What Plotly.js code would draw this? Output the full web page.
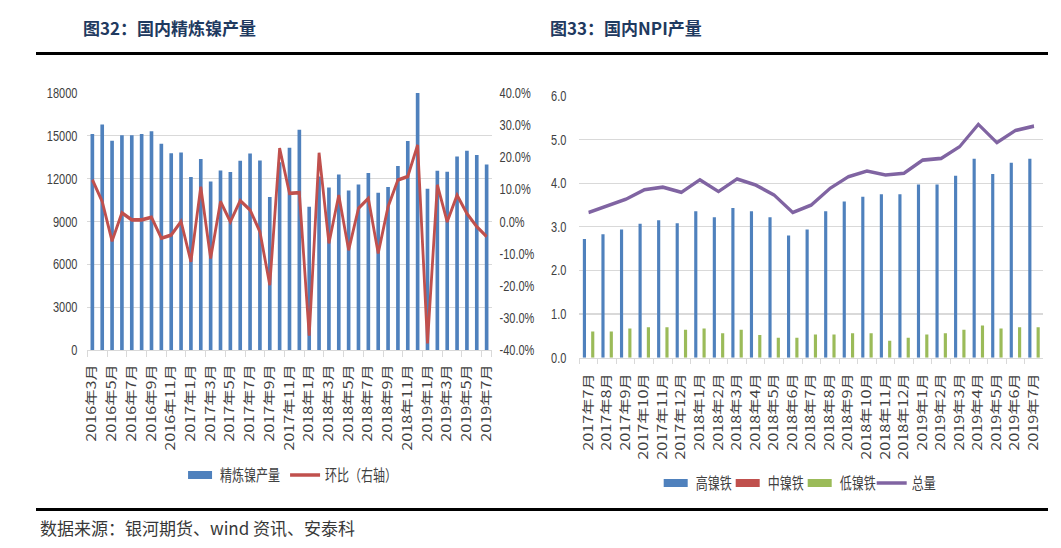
<!DOCTYPE html>
<html>
<head>
<meta charset="utf-8">
<script src="https://cdn.plot.ly/plotly-3.0.1.min.js"></script>
<style>
  html, body { margin:0; padding:0; background:#fff; width:1061px; height:548px; overflow:hidden; }
  #chart { position:absolute; left:0; top:0; width:1061px; height:422px; transform:scaleY(1.2986); transform-origin:0 0; }
  .txt { position:absolute; white-space:nowrap; font-family:"Noto Sans CJK SC", sans-serif; z-index:5; }
  .rule { position:absolute; background:#000; z-index:5; }
</style>
</head>
<body>
<div id="chart"></div>
<div class="txt" style="left:83px; top:18px; font-size:17px; line-height:20px; font-weight:bold; color:#1F3A60;">图32：国内精炼镍产量</div>
<div class="txt" style="left:550px; top:18px; font-size:17px; line-height:20px; font-weight:bold; color:#1F3A60;">图33：国内NPI产量</div>
<div class="rule" style="left:36px; top:52px; width:1012px; height:3px;"></div>
<div class="rule" style="left:36px; top:508px; width:1012px; height:3px;"></div>
<div class="txt" style="left:40px; top:517px; font-size:17px; line-height:22px; color:#383838;">数据来源：银河期货、wind 资讯、安泰科</div>
<script>
// ---------- 图32：国内精炼镍产量 ----------
const refinedMonths = [
  "2016年3月","2016年4月","2016年5月","2016年6月","2016年7月","2016年8月","2016年9月","2016年10月","2016年11月","2016年12月",
  "2017年1月","2017年2月","2017年3月","2017年4月","2017年5月","2017年6月","2017年7月","2017年8月","2017年9月","2017年10月","2017年11月","2017年12月",
  "2018年1月","2018年2月","2018年3月","2018年4月","2018年5月","2018年6月","2018年7月","2018年8月","2018年9月","2018年10月","2018年11月","2018年12月",
  "2019年1月","2019年2月","2019年3月","2019年4月","2019年5月","2019年6月","2019年7月"
];
const refinedOutput = [
  15130,15800,14650,15040,15040,15130,15320,14450,13780,13840,
  12120,13380,11810,12580,12470,13260,13770,13280,10720,13150,14170,15430,
  10040,12150,11390,12300,11180,11600,12400,11020,11420,12890,14640,18000,
  11300,12560,12490,13560,13960,13660,13000
];
const refinedMoM = [
  0.130,0.062,-0.061,0.027,0.005,0.005,0.013,-0.052,-0.042,0.000,
  -0.125,0.108,-0.115,0.062,-0.001,0.065,0.036,-0.032,-0.198,0.228,0.088,0.090,
  -0.355,0.214,-0.068,0.082,-0.089,0.041,0.072,-0.099,0.046,0.129,0.140,0.238,
  -0.379,0.114,-0.001,0.082,0.025,-0.016,-0.047
];
const refinedTickLabels = [
  "2016年3月","2016年5月","2016年7月","2016年9月","2016年11月",
  "2017年1月","2017年3月","2017年5月","2017年7月","2017年9月","2017年11月",
  "2018年1月","2018年3月","2018年5月","2018年7月","2018年9月","2018年11月",
  "2019年1月","2019年3月","2019年5月","2019年7月"
];
const momTickVals = [-0.4,-0.3,-0.2,-0.1,0,0.1,0.2,0.3,0.4];
const momTickText = ["-40.0%","-30.0%","-20.0%","-10.0%","0.0%","10.0%","20.0%","30.0%","40.0%"];

// ---------- 图33：国内NPI产量 ----------
const npiMonths = [
  "2017年7月","2017年8月","2017年9月","2017年10月","2017年11月","2017年12月",
  "2018年1月","2018年2月","2018年3月","2018年4月","2018年5月","2018年6月",
  "2018年7月","2018年8月","2018年9月","2018年10月","2018年11月","2018年12月",
  "2019年1月","2019年2月","2019年3月","2019年4月","2019年5月","2019年6月","2019年7月"
];
const highNiFe = [2.72,2.83,2.94,3.07,3.15,3.08,3.36,3.22,3.43,3.36,3.22,2.80,2.94,3.36,3.58,3.69,3.75,3.75,3.97,3.97,4.17,4.56,4.21,4.47,4.56];
const midNiFe  = [null,null,null,null,null,null,null,null,null,null,null,null,null,null,null,null,null,null,null,null,null,null,null,null,null];
const lowNiFe  = [0.60,0.60,0.67,0.70,0.70,0.64,0.67,0.56,0.64,0.52,0.46,0.46,0.53,0.53,0.56,0.56,0.39,0.46,0.53,0.56,0.64,0.74,0.67,0.70,0.70];
const totalNPI = [3.33,3.48,3.63,3.85,3.91,3.79,4.08,3.81,4.10,3.96,3.73,3.33,3.50,3.88,4.15,4.28,4.19,4.23,4.53,4.57,4.84,5.35,4.93,5.21,5.31];

const BLUE = "#4F81BD", RED = "#C0504D", GREEN = "#9BBB59", PURPLE = "#8064A2";
const GRID = "#D9D9D9", TXT = "#404040";

const traces = [
  { type:"bar", name:"精炼镍产量", x:refinedMonths, y:refinedOutput, xaxis:"x", yaxis:"y",
    marker:{color:BLUE}, width:0.37, offset:-0.185, legend:"legend" },
  { type:"scatter", mode:"lines", name:"环比（右轴）", x:refinedMonths, y:refinedMoM, xaxis:"x", yaxis:"y2",
    line:{color:RED, width:2.8}, legend:"legend" },
  { type:"bar", name:"高镍铁", x:npiMonths, y:highNiFe, xaxis:"x2", yaxis:"y3",
    marker:{color:BLUE}, width:0.17, offset:-0.309, legend:"legend2" },
  { type:"bar", name:"中镍铁", x:npiMonths, y:midNiFe, xaxis:"x2", yaxis:"y3",
    marker:{color:RED}, width:0.17, offset:-0.085, legend:"legend2" },
  { type:"bar", name:"低镍铁", x:npiMonths, y:lowNiFe, xaxis:"x2", yaxis:"y3",
    marker:{color:GREEN}, width:0.17, offset:0.139, legend:"legend2" },
  { type:"scatter", mode:"lines", name:"总量", x:npiMonths, y:totalNPI, xaxis:"x2", yaxis:"y3",
    line:{color:PURPLE, width:2.8}, legend:"legend2" }
];

const catFont = {family:"Noto Sans CJK SC, sans-serif", size:12.5, color:TXT};
const numFont = {family:"Liberation Sans, Arial, sans-serif", size:11, color:TXT};

const layout = {
  width:1061, height:422,
  margin:{l:0, r:0, t:0, b:0},
  paper_bgcolor:"#ffffff", plot_bgcolor:"#ffffff",
  barmode:"overlay",
  showlegend:true,
  font:{family:"Noto Sans CJK SC, sans-serif", color:TXT},
  xaxis:{
    domain:[0.0824, 0.4633], anchor:"y", type:"category",
    categoryorder:"array", categoryarray:refinedMonths, range:[-0.5, refinedMonths.length-0.5],
    tickmode:"array", tickvals:refinedTickLabels, ticktext:refinedTickLabels,
    tickangle:-90, tickfont:catFont, showgrid:false, zeroline:false,
    showline:true, linecolor:GRID, linewidth:1,
    ticks:"outside", tickson:"boundaries", ticklen:4, tickcolor:GRID, ticklabelstandoff:5,
    fixedrange:true
  },
  yaxis:{
    domain:[0.3613, 0.8303], anchor:"x", range:[0,18000], tick0:0, dtick:3000, tickformat:"d",
    showgrid:true, gridcolor:GRID, gridwidth:1, zeroline:false, showline:false,
    tickfont:numFont, ticks:"", ticklabelstandoff:9, fixedrange:true
  },
  yaxis2:{
    overlaying:"y", side:"right", anchor:"x", range:[-0.4,0.4],
    tickmode:"array", tickvals:momTickVals, ticktext:momTickText,
    showgrid:false, zeroline:false, showline:false,
    tickfont:numFont, ticks:"", ticklabelstandoff:7, fixedrange:true
  },
  xaxis2:{
    domain:[0.5460, 0.9833], anchor:"y3", type:"category",
    categoryorder:"array", categoryarray:npiMonths, range:[-0.5, npiMonths.length-0.5],
    tickangle:-90, tickfont:catFont, showgrid:false, zeroline:false,
    showline:true, linecolor:GRID, linewidth:1,
    ticks:"outside", tickson:"boundaries", ticklen:4, tickcolor:GRID, ticklabelstandoff:6,
    fixedrange:true
  },
  yaxis3:{
    domain:[0.3473, 0.8248], anchor:"x2", range:[0,6], tick0:0, dtick:1, tickformat:".1f",
    showgrid:true, gridcolor:GRID, gridwidth:1, zeroline:false, showline:false,
    tickfont:numFont, ticks:"", ticklabelstandoff:12, fixedrange:true
  },
  legend:{
    orientation:"h", x:0.1697, y:0.1332, xanchor:"left", yanchor:"middle",
    font:{family:"Noto Sans CJK SC, sans-serif", size:12, color:TXT},
    bgcolor:"rgba(0,0,0,0)", borderwidth:0
  },
  legend2:{
    orientation:"h", x:0.618, y:0.1186, xanchor:"left", yanchor:"middle",
    entrywidth:27, entrywidthmode:"pixels",
    font:{family:"Noto Sans CJK SC, sans-serif", size:12, color:TXT},
    bgcolor:"rgba(0,0,0,0)", borderwidth:0
  }
};

function flattenLegendKeys(gd){
  // Excel-style flat rectangular legend keys for the bar series
  gd.querySelectorAll("g.legendpoints path").forEach(function(p){
    var d = p.getAttribute("d") || "";
    if (/^M6,6H-6V-6H6Z/.test(d.replace(/\s/g, ""))) {
      p.setAttribute("d", "M12,3H-12V-3H12Z");
    }
  });
}

Plotly.newPlot("chart", traces, layout, {displayModeBar:false, staticPlot:true}).then(function(gd){
  flattenLegendKeys(gd);
  setTimeout(function(){ flattenLegendKeys(gd); }, 50);
});
</script>
</body>
</html>
